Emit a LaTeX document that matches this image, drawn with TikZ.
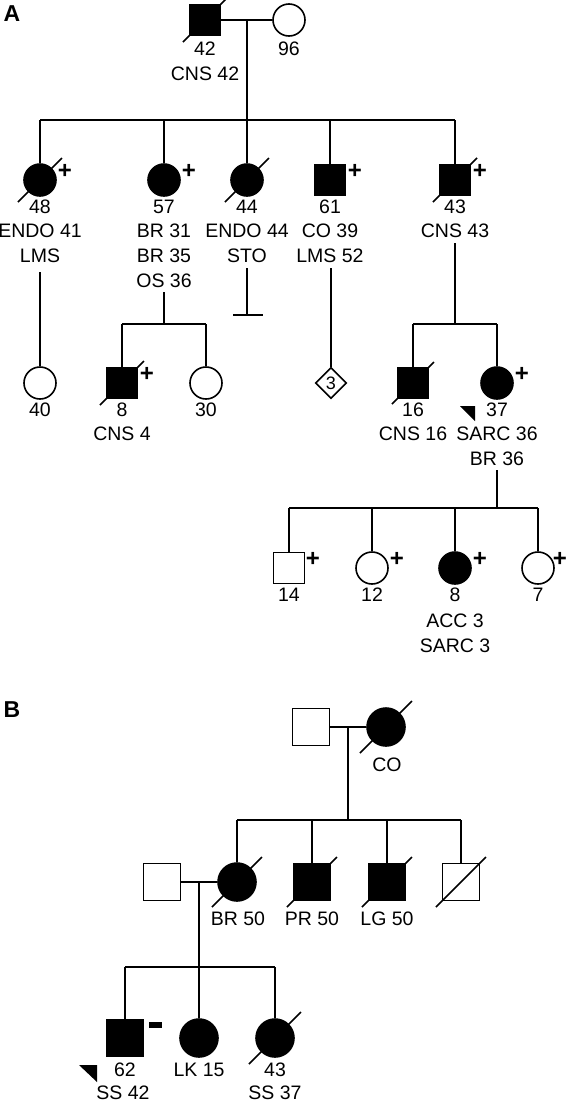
\documentclass[tikz,border=0pt]{standalone}
\usepackage{fontspec}
\setmainfont{Liberation Sans}
\usetikzlibrary{shapes.geometric}
\newcommand{\dslash}[2]{\draw (#1.center) ++(-#2,#2) -- ++({2*#2},{-2*#2});}
\newcommand{\lab}[4]{\node[lbl,anchor=base] (#1) at (#2,#3+7) {#4};}
\begin{document}
\begin{tikzpicture}[x=1pt,y=-1pt,line width=1.6pt,
  male/.style={draw,rectangle,minimum size=31pt,inner sep=0pt,fill=white},
  fem/.style={draw,circle,minimum size=32pt,inner sep=0pt,fill=white},
  maleB/.style={male,minimum size=37pt},
  femB/.style={fem,minimum size=38pt},
  aff/.style={fill=black},
  lbl/.style={inner sep=0pt,font=\fontsize{19.5}{23}\selectfont},
  plus/.style={inner sep=0pt,font=\fontsize{24}{26}\selectfont\bfseries},
  panel/.style={inner sep=0pt,font=\fontsize{23}{26}\selectfont\bfseries},
  proband/.style={fill=black,draw=none},
  minusbar/.style={fill=black,draw=none,rectangle,minimum width=13pt,minimum height=6pt,inner sep=0pt},
  pdiamond/.style={draw,diamond,aspect=1,minimum size=31pt,inner sep=0pt,font=\fontsize{18}{20}\selectfont},
]
\useasboundingbox (0,0) rectangle (567,1101);

% ================= Panel A =================
\node[panel] (labA) at (12,14) {A};

% generation I
\node[male,aff] (I1) at (205,20) {};
\node[fem] (I2) at (289,20) {};
\dslash{I1}{22}
\draw (I1) -- (I2);
\coordinate (dA1) at (247,20);
\coordinate (sA1) at (247,120);
\draw (dA1) -- (sA1);
\lab{tI1a}{205}{48}{42}
\lab{tI1b}{205}{73}{CNS 42}
\lab{tI2a}{289}{48}{96}

% generation II
\node[fem,aff] (II1) at (40,180) {};
\node[fem,aff] (II2) at (164,180) {};
\node[fem,aff] (II3) at (247,180) {};
\node[male,aff] (II4) at (330,180) {};
\node[male,aff] (II5) at (455,180) {};
\dslash{II1}{22}
\dslash{II3}{22}
\dslash{II5}{22}
\draw (II1.north |- sA1) -- (II5.north |- sA1);
\foreach \c in {II1,II2,II3,II4,II5} \draw (\c.north |- sA1) -- (\c);
\node[plus] (pII1) at (65,171) {+};
\node[plus] (pII2) at (189,171) {+};
\node[plus] (pII4) at (355,171) {+};
\node[plus] (pII5) at (480,171) {+};

\lab{tII1a}{40}{206}{48}
\lab{tII1b}{40}{230}{ENDO 41}
\lab{tII1c}{40}{255}{LMS}
\lab{tII2a}{164}{206}{57}
\lab{tII2b}{164}{230}{BR 31}
\lab{tII2c}{164}{255}{BR 35}
\lab{tII2d}{164}{280}{OS 36}
\lab{tII3a}{247}{206}{44}
\lab{tII3b}{247}{230}{ENDO 44}
\lab{tII3c}{247}{255}{STO}
\lab{tII4a}{330}{206}{61}
\lab{tII4b}{330}{230}{CO 39}
\lab{tII4c}{330}{255}{LMS 52}
\lab{tII5a}{455}{206}{43}
\lab{tII5b}{455}{230}{CNS 43}

% generation III
\node[fem] (III1) at (40,383) {};
\node[male,aff] (III2) at (122,383) {};
\node[fem] (III3) at (206,383) {};
\node[pdiamond] (III4) at (331,383) {3};
\node[male,aff] (III6) at (413,383) {};
\node[fem,aff] (III7) at (497,383) {};
\dslash{III2}{22}
\dslash{III6}{21}
\node[plus] (pIII2) at (147,374) {+};
\node[plus] (pIII7) at (522,374) {+};

% descent lines from generation II
\coordinate (dII1) at (40,272);
\draw (dII1) -- (III1);
\coordinate (dII2) at (164,292);
\coordinate (sII2) at (164,324);
\draw (dII2) -- (sII2);
\draw (III2.north |- sII2) -- (III3.north |- sII2);
\draw (III2.north |- sII2) -- (III2);
\draw (III3.north |- sII2) -- (III3);
\coordinate (dII3) at (247,268);
\coordinate (nII3) at (247,315);
\coordinate (nII3l) at (233,315);
\coordinate (nII3r) at (263,315);
\draw (dII3) -- (nII3);
\draw (nII3l) -- (nII3r);
\coordinate (dII4) at (331,268);
\draw (dII4) -- (III4);
\coordinate (dII5) at (455,243);
\coordinate (sII5) at (455,324);
\draw (dII5) -- (sII5);
\draw (III6.north |- sII5) -- (III7.north |- sII5);
\draw (III6.north |- sII5) -- (III6);
\draw (III7.north |- sII5) -- (III7);

\lab{tIII1a}{40}{409}{40}
\lab{tIII2a}{122}{409}{8}
\lab{tIII2b}{122}{433}{CNS 4}
\lab{tIII3a}{206}{409}{30}
\lab{tIII6a}{413}{409}{16}
\lab{tIII6b}{413}{433}{CNS 16}
\lab{tIII7a}{497}{409}{37}
\lab{tIII7b}{497}{433}{SARC 36}
\lab{tIII7c}{497}{458}{BR 36}
\fill[proband] (460,406) -- (475,406) -- (475,421) -- cycle;

% generation IV
\node[male] (IV1) at (289,568) {};
\node[fem] (IV2) at (372,568) {};
\node[fem,aff] (IV3) at (455,568) {};
\node[fem] (IV4) at (538,568) {};
\coordinate (dIII7) at (497,470);
\coordinate (sIII7) at (497,508);
\draw (dIII7) -- (sIII7);
\draw (IV1.north |- sIII7) -- (IV4.north |- sIII7);
\foreach \c in {IV1,IV2,IV3,IV4} \draw (\c.north |- sIII7) -- (\c);
\node[plus] (pIV1) at (313,559) {+};
\node[plus] (pIV2) at (397,559) {+};
\node[plus] (pIV3) at (480,559) {+};
\node[plus] (pIV4) at (560,559) {+};
\lab{tIV1a}{289}{594}{14}
\lab{tIV2a}{372}{594}{12}
\lab{tIV3a}{455}{594}{8}
\lab{tIV3b}{455}{620}{ACC 3}
\lab{tIV3c}{455}{645}{SARC 3}
\lab{tIV4a}{538}{594}{7}

% ================= Panel B =================
\node[panel] (labB) at (12,710) {B};

\node[maleB] (BI1) at (311,727) {};
\node[femB,aff] (BI2) at (386,727) {};
\dslash{BI2}{26}
\draw (BI1) -- (BI2);
\coordinate (dB1) at (348,727);
\coordinate (sB1) at (348,820);
\draw (dB1) -- (sB1);
\lab{tBI2}{387}{764}{CO}

\node[maleB] (BS) at (162,882) {};
\node[femB,aff] (BII1) at (237,882) {};
\node[maleB,aff] (BII2) at (312,882) {};
\node[maleB,aff] (BII3) at (387,882) {};
\node[maleB] (BII4) at (461,882) {};
\dslash{BII1}{25}
\dslash{BII2}{25}
\dslash{BII3}{25}
\dslash{BII4}{25}
\draw (BII1.north |- sB1) -- (BII4.north |- sB1);
\foreach \c in {BII1,BII2,BII3,BII4} \draw (\c.north |- sB1) -- (\c);
\draw (BS) -- (BII1);
\lab{tBII1}{238}{918}{BR 50}
\lab{tBII2}{312}{918}{PR 50}
\lab{tBII3}{387}{918}{LG 50}

\coordinate (dB2) at (199,882);
\coordinate (sB2) at (199,967);
\draw (dB2) -- (sB2);
\node[maleB,aff] (BIII1) at (125,1038) {};
\node[femB,aff] (BIII2) at (199,1038) {};
\node[femB,aff] (BIII3) at (275,1038) {};
\dslash{BIII3}{26}
\draw (BIII1.north |- sB2) -- (BIII3.north |- sB2);
\foreach \c in {BIII1,BIII2,BIII3} \draw (\c.north |- sB2) -- (\c);
\node[minusbar] (mBIII1) at (155,1025) {};
\lab{tBIII1a}{125}{1069}{62}
\lab{tBIII1b}{123}{1092}{SS 42}
\lab{tBIII2a}{199}{1069}{LK 15}
\lab{tBIII3a}{275}{1069}{43}
\lab{tBIII3b}{275}{1092}{SS 37}
\fill[proband] (79,1065) -- (97,1065) -- (97,1082) -- cycle;
\end{tikzpicture}
\end{document}
